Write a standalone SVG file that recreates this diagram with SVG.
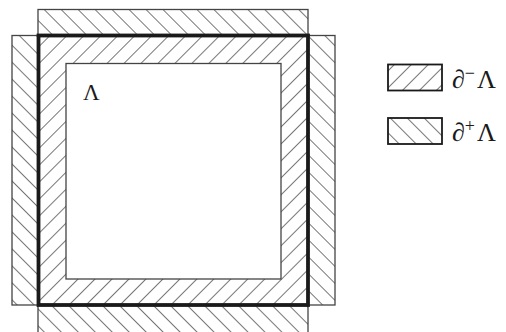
<svg xmlns="http://www.w3.org/2000/svg" width="506" height="332" viewBox="0 0 506 332">
<style>
.band{stroke:#444;stroke-width:1.3}
.minus{fill:url(#hatchMinus)}
.plus{fill:url(#hatchPlus)}
.thick{fill:none;stroke:#1a1a1a;stroke-width:3.8}
.lbl{font-family:"Liberation Serif","DejaVu Serif",serif;fill:#1a1a1a}
</style>
<defs>
<pattern id="hatchMinus" patternUnits="userSpaceOnUse" width="12" height="12" patternTransform="rotate(45)">
<line x1="0" y1="0" x2="0" y2="12" stroke="#1a1a1a" stroke-width="1.2"/>
</pattern>
<pattern id="hatchPlus" patternUnits="userSpaceOnUse" width="12" height="12" patternTransform="rotate(-45)">
<line x1="0" y1="0" x2="0" y2="12" stroke="#1a1a1a" stroke-width="1.2"/>
</pattern>
</defs>
<rect width="506" height="332" fill="#fff"/>
<g id="outer-boundary">
<rect class="band plus" x="38" y="9.5" width="270" height="26"/>
<rect class="band plus" x="38" y="305" width="270" height="28"/>
<rect class="band plus" x="12" y="35.5" width="26" height="269.5"/>
<rect class="band plus" x="308" y="35.5" width="27" height="269.5"/>
</g>
<g id="inner-boundary">
<rect class="minus" x="38" y="35.5" width="270" height="269.5"/>
</g>
<g id="lambda">
<rect x="66" y="63.5" width="215" height="215.5" fill="#fff" stroke="#444" stroke-width="1.3"/>
<text class="lbl" x="83" y="100" font-size="23">Λ</text>
</g>
<g id="square">
<rect class="thick" x="38.5" y="35.5" width="269.5" height="269.5"/>
</g>
<g id="legend-minus">
<rect class="minus" x="388" y="64.5" width="54" height="26" stroke="#1a1a1a" stroke-width="1.8"/>
<text class="lbl" x="452" y="88" font-size="26">∂<tspan font-size="18" dy="-9">−</tspan><tspan dy="9" dx="2">Λ</tspan></text>
</g>
<g id="legend-plus">
<rect class="plus" x="388" y="118" width="54" height="26" stroke="#1a1a1a" stroke-width="1.8"/>
<text class="lbl" x="452" y="141" font-size="26">∂<tspan font-size="18" dy="-9">+</tspan><tspan dy="9" dx="2">Λ</tspan></text>
</g>
<g id="connectors"></g>
</svg>
